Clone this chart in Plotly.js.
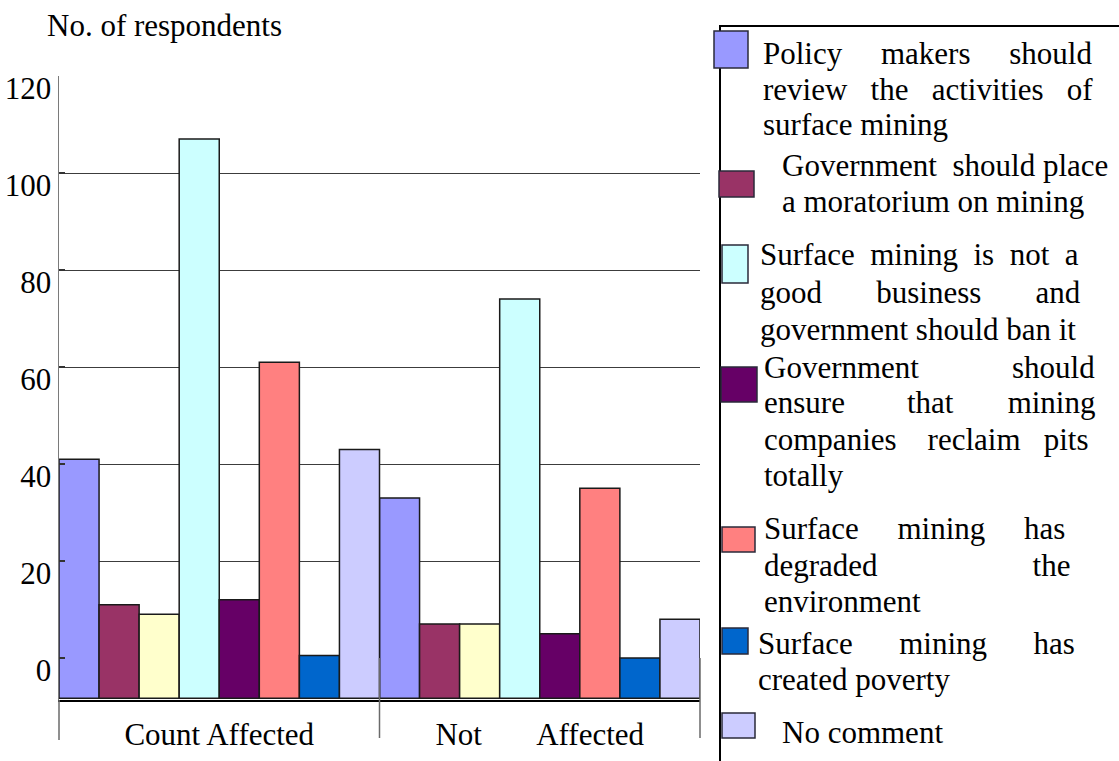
<!DOCTYPE html>
<html>
<head>
<meta charset="utf-8">
<script src="https://cdn.plot.ly/plotly-3.0.1.min.js"></script>
<style>html,body{margin:0;padding:0;background:#fff;}</style>
</head>
<body>
<div id="chart" style="width:1119px;height:761px;"></div>
<script>
// ---- data ----
const groups = ['Count Affected', 'Not Affected'];
const groupTickLabels = ['Count Affected', 'Not\u00a0\u00a0\u00a0\u00a0\u00a0\u00a0\u00a0Affected'];
const seriesNames = [
  'Policy makers should review the activities of surface mining',
  'Government should place a moratorium on mining',
  'Surface mining is not a good business and government should ban it',
  'Government should ensure that mining companies reclaim pits totally',
  'Surface mining has degraded the environment',
  'Surface mining has created poverty',
  'No comment'
];
// one value per bar; the third (light yellow) bar has no legend entry
const countAffected = [41, 11, 9, 107, 12, 61, 0.5, 43];
const notAffected   = [33, 7, 7, 74, 5, 35, 0, 8];
const yTickValues = [0, 20, 40, 60, 80, 100, 120];
const yTickLabels = ['0', '20', '40', '60', '80', '100', '120'];

// ---- styling ----
const FONT = 'Liberation Serif';
const FONT_SIZE = 31;
const seriesColors = ['#9999FF', '#993366', '#FFFFCC', '#CCFFFF', '#660066', '#FF8080', '#0066CC', '#CCCCFF'];
// bars are drawn from a floor slightly below the zero line
const BASE = -8.3;
const barNames = [seriesNames[0], seriesNames[1], 'Series 3', seriesNames[2], seriesNames[3], seriesNames[4], seriesNames[5], seriesNames[6]];

// plot area in pixels
const W = 1119, H = 761;
const PL = 59, PR = 700, PT = 76, PB = 700;
const px2x = p => (p - PL) / (PR - PL);
const px2y = p => (PB - p) / (PB - PT);

const traces = countAffected.map((v, i) => ({
  type: 'bar',
  x: groups,
  y: [countAffected[i] - BASE, notAffected[i] - BASE],
  base: BASE,
  name: barNames[i],
  marker: {color: seriesColors[i], line: {color: '#1a1a1a', width: 1.5}},
  showlegend: false,
  hoverinfo: 'skip'
}));

// legend colours follow the named series
const legendColors = [seriesColors[0], seriesColors[1], seriesColors[3], seriesColors[4], seriesColors[5], seriesColors[6], seriesColors[7]];

// legend block geometry: words per line, text start, justified width, baselines, swatch box
const legendLayout = [
  {words: [3, 4, 2],    x: 763, width: 330, baselines: [64, 100, 135],      swatch: [714, 31, 748, 68]},
  {words: [3, 4],       x: 782, width: 327, baselines: [176, 212],          swatch: [719, 171, 754, 197]},
  {words: [5, 3, 4],    x: 760, width: 318, baselines: [265, 303, 340],     swatch: [722, 245, 748, 283]},
  {words: [2, 3, 3, 1], x: 764, width: 328, baselines: [378, 413, 450, 486], swatch: [721, 367, 757, 402]},
  {words: [3, 2, 1],    x: 764, width: 303, baselines: [539, 576, 612],     swatch: [722, 527, 755, 552]},
  {words: [3, 2],       x: 758, width: 320, baselines: [654, 690],          swatch: [722, 628, 748, 654]},
  {words: [2],          x: 782, width: 0,   baselines: [743],               swatch: [722, 713, 755, 738]}
];

const ctx = document.createElement('canvas').getContext('2d');
ctx.font = FONT_SIZE + 'px "Liberation Serif"';
const NBSP = '\u00a0';
function justify(words, target) {
  if (words.length < 2 || !target) return words.join(NBSP);
  const wordsW = words.reduce((s, w) => s + ctx.measureText(w).width, 0);
  const sp = ctx.measureText(NBSP).width;
  const gaps = words.length - 1;
  const total = Math.max(gaps, Math.round((target - wordsW) / sp));
  const each = Math.floor(total / gaps);
  let extra = total - each * gaps;
  let out = words[0];
  for (let k = 1; k < words.length; k++) {
    out += NBSP.repeat(each + (extra > 0 ? 1 : 0)) + words[k];
    extra--;
  }
  return out;
}

const shapes = [];
const annotations = [];

// legend frame
shapes.push({type: 'rect', xref: 'paper', yref: 'paper',
  x0: px2x(720), x1: px2x(1135), y0: px2y(26), y1: px2y(790),
  line: {color: '#000', width: 2}, fillcolor: 'rgba(0,0,0,0)'});

legendLayout.forEach((item, i) => {
  const s = item.swatch;
  shapes.push({type: 'rect', xref: 'paper', yref: 'paper',
    x0: px2x(s[0]), x1: px2x(s[2]), y0: px2y(s[1]), y1: px2y(s[3]),
    fillcolor: legendColors[i], line: {color: '#2a2a3a', width: 1.5}});
  const words = seriesNames[i].split(' ');
  let pos = 0;
  item.words.forEach((n, li) => {
    const lineWords = words.slice(pos, pos + n);
    pos += n;
    const isLast = li === item.words.length - 1;
    const txt = isLast ? lineWords.join(' ') : justify(lineWords, item.width);
    annotations.push({xref: 'paper', yref: 'paper', x: px2x(item.x - 2), y: px2y(item.baselines[li] - 10.5),
      xanchor: 'left', yanchor: 'middle', showarrow: false, text: txt,
      font: {family: FONT, size: FONT_SIZE, color: '#000'}});
  });
});

// group separators below the category axis
[[0, 700, 740], [0.5, 658, 738], [1, 658, 738]].forEach(d => {
  shapes.push({type: 'line', xref: 'paper', yref: 'paper', x0: d[0], x1: d[0],
    y0: px2y(d[1]), y1: px2y(d[2]), line: {color: '#6a6a6a', width: 1.5}});
});

const layout = {
  width: W, height: H,
  font: {family: FONT, size: FONT_SIZE, color: '#000'},
  margin: {l: PL, r: W - PR, t: PT, b: H - PB, pad: 0},
  paper_bgcolor: '#fff', plot_bgcolor: '#fff',
  barmode: 'group', bargap: 0, bargroupgap: 0,
  showlegend: false,
  title: {text: 'No. of respondents', font: {family: FONT, size: FONT_SIZE, color: '#000'},
    x: 47 / W, xanchor: 'left', xref: 'container', y: 1 - 25.5 / H, yanchor: 'middle', yref: 'container'},
  xaxis: {type: 'category', range: [-0.5, 1.5], tickvals: groups, ticktext: groupTickLabels,
    showline: true, linecolor: '#000', linewidth: 1.5, ticks: '', showgrid: false, zeroline: false,
    tickfont: {family: FONT, size: FONT_SIZE, color: '#000'}, ticklabelstandoff: 6},
  yaxis: {range: [120 - (PB - PT) / 4.85, 120], tickvals: yTickValues, ticktext: yTickLabels,
    showgrid: true, gridcolor: '#3c3c3c', gridwidth: 1,
    zeroline: true, zerolinecolor: 'rgba(0,0,0,0)', zerolinewidth: 1,
    showline: true, linecolor: '#7a7a7a', linewidth: 1.5,
    ticks: 'inside', ticklen: 6, tickcolor: '#333', tickwidth: 1.5,
    tickfont: {family: FONT, size: FONT_SIZE, color: '#000'},
    ticklabelshift: 12, ticklabelstandoff: 0},
  shapes: shapes,
  annotations: annotations
};

Plotly.newPlot('chart', traces, layout, {displayModeBar: false, staticPlot: true});
</script>
</body>
</html>
